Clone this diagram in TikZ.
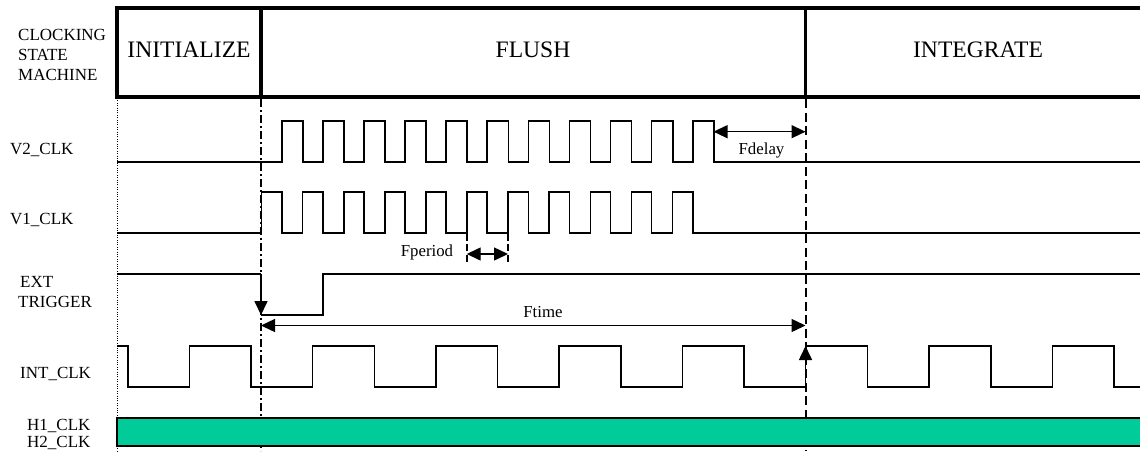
\documentclass[tikz,border=0pt]{standalone}
\usepackage{fontspec}
\setmainfont{Liberation Serif}
\usetikzlibrary{arrows.meta}
\definecolor{hclk}{RGB}{0,204,153}
\begin{document}
\begin{tikzpicture}[x=1pt,y=-1pt,
  sig/.style={line width=1.6pt, line join=miter},
  hdr/.style={line width=3.6pt, line join=miter},
  lbl/.style={anchor=base west, inner sep=0pt, font=\fontsize{17}{17}\selectfont},
  ann/.style={anchor=base, inner sep=0pt, font=\fontsize{16.8}{17}\selectfont},
  hdrtxt/.style={inner sep=0pt, font=\fontsize{23.6}{24}\selectfont},
  tip/.style={-{Triangle[length=14pt,width=13pt]}},
  dtip/.style={{Triangle[length=14pt,width=13pt]}-{Triangle[length=14pt,width=13pt]}},
  dashline/.style={line width=2pt, dash pattern=on 9pt off 4.5pt},
  shortdash/.style={line width=2pt, dash pattern=on 7pt off 3.5pt},
  dashdot/.style={line width=2pt, dash pattern=on 8pt off 3pt on 2pt off 3pt},
  dotline/.style={line width=0.8pt, dash pattern=on 0.8pt off 1.6pt},
]
\useasboundingbox (0,0) rectangle (1140,451);

% ---- vertical markers ----
\coordinate (d0a) at (117,98);   \coordinate (d0b) at (117,451);
\coordinate (d1a) at (261,99);   \coordinate (d1b) at (261,451);
\coordinate (d2a) at (805.5,99); \coordinate (d2b) at (805.5,451);
\draw[dotline] (d0a) -- (d0b);
\draw[dashdot] (d1a) -- (d1b);
\draw[dashline] (d2a) -- (d2b);

% ---- header (state machine) ----
\draw[hdr] (1150,8) -- (117,8) -- (117,97) -- (1150,97);
\draw[hdr] (261,8) -- (261,97);
\draw[hdr] (805.5,8) -- (805.5,97);
\node[hdrtxt] (init)  at (189,50) {INITIALIZE};
\node[hdrtxt] (flush) at (533,50) {FLUSH};
\node[hdrtxt] (integ) at (978,50) {INTEGRATE};

% ---- left labels ----
\node[lbl] (lclock) at (18,40.8)  {CLOCKING};
\node[lbl] (lstate) at (18,60.5)  {STATE};
\node[lbl] (lmach)  at (18,80.2)  {MACHINE};
\node[lbl] (lv2)    at (10,154.6) {V2\_CLK};
\node[lbl] (lv1)    at (10,224.6) {V1\_CLK};
\node[lbl] (lext)   at (20,287.6) {EXT};
\node[lbl] (ltrig)  at (18,307.6) {TRIGGER};
\node[lbl] (lint)   at (20,378.6) {INT\_CLK};
\node[lbl] (lh1)    at (27,430.2) {H1\_CLK};
\node[lbl] (lh2)    at (27,447.2) {H2\_CLK};

% ---- V2_CLK ----
\draw[sig] (117,162) foreach \k in {0,...,10} {
  -- ({281.7+41.1*\k},162) -- ({281.7+41.1*\k},121)
  -- ({302.8+41.1*\k},121) -- ({302.8+41.1*\k},162) } -- (1140,162);

% ---- V1_CLK ----
\draw[sig] (117,233) foreach \k in {0,...,10} {
  -- ({261.5+41.1*\k},233) -- ({261.5+41.1*\k},192)
  -- ({281.7+41.1*\k},192) -- ({281.7+41.1*\k},233) } -- (1140,233);

% ---- EXT TRIGGER ----
\coordinate (etop) at (261,274);
\coordinate (ebot) at (261,315);
\draw[sig] (117,274) -- (etop);
\draw[sig,tip] (etop) -- (ebot);
\draw[sig] (ebot) -- (322.7,315) -- (322.7,274) -- (1140,274);

% ---- INT_CLK ----
\coordinate (ilow) at (805.5,387);
\coordinate (ihigh) at (805.5,346);
\draw[sig] (117,346) foreach \j in {0,...,4} {
  -- ({127.7+123.3*\j},346) -- ({127.7+123.3*\j},387)
  -- ({189.3+123.3*\j},387) -- ({189.3+123.3*\j},346) }
  -- (744.2,346) -- (744.2,387) -- (ilow);
\draw[sig,tip] (ilow) -- (ihigh);
\draw[sig] (ihigh) -- (867.5,346) -- (867.5,387) -- (929.1,387) -- (929.1,346)
  -- (990.8,346) -- (990.8,387) -- (1052.4,387) -- (1052.4,346)
  -- (1114.1,346) -- (1114.1,387) -- (1140,387);

% ---- H1/H2 bar ----
\draw[line width=1.5pt, fill=hclk] (117,418) rectangle (1150,446);

% ---- Fdelay ----
\coordinate (fda) at (713.5,131.7);
\coordinate (fdb) at (805.5,131.7);
\draw[line width=1.4pt, dtip] (fda) -- (fdb);
\node[ann] (fdelay) at (761.5,154) {Fdelay};

% ---- Fperiod ----
\coordinate (fpa1) at (466.7,223); \coordinate (fpa2) at (466.7,264);
\coordinate (fpb1) at (508,223);   \coordinate (fpb2) at (508,264);
\draw[shortdash] (fpa1) -- (fpa2);
\draw[shortdash] (fpb1) -- (fpb2);
\coordinate (fpl) at (466.7,254); \coordinate (fpr) at (508,254);
\draw[line width=1.4pt, dtip] (fpl) -- (fpr);
\node[ann] (fperiod) at (427,256.3) {Fperiod};

% ---- Ftime ----
\coordinate (fta) at (261,325.5);
\coordinate (ftb) at (805.5,325.5);
\draw[line width=1.4pt, dtip] (fta) -- (ftb);
\node[ann] (ftime) at (543,317.3) {Ftime};
\end{tikzpicture}
\end{document}
